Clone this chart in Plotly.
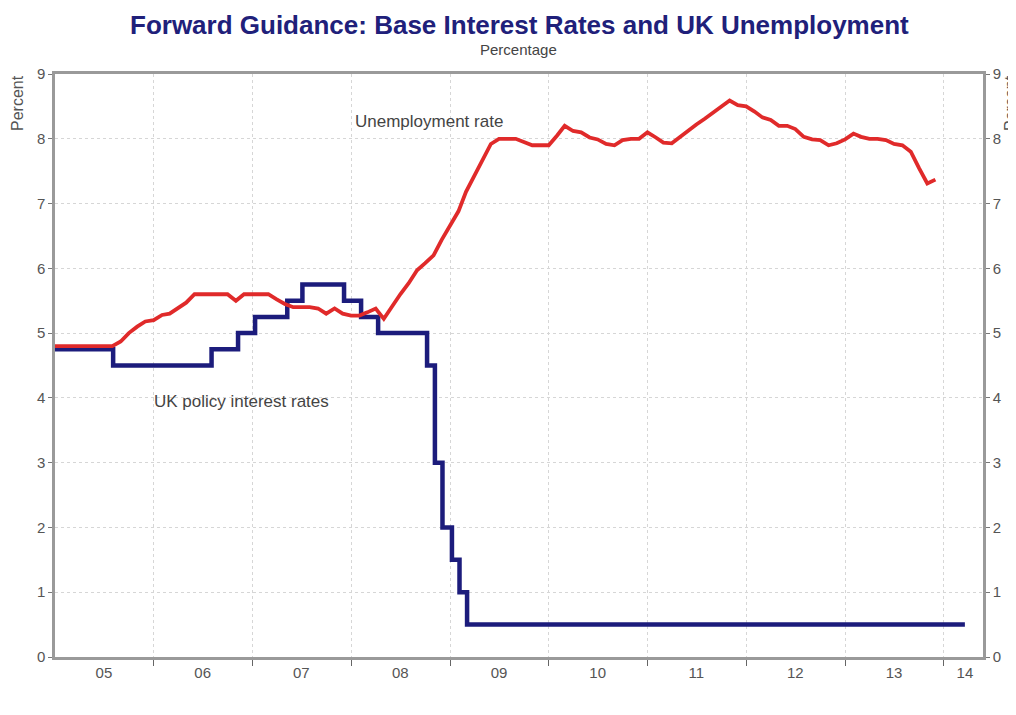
import plotly.graph_objects as go

# ---- Data ----
# UK policy (Bank) rate, change dates and levels
rate_dates = ["2005-01-01", "2005-08-04", "2006-08-03", "2006-11-09", "2007-01-11",
              "2007-05-10", "2007-07-05", "2007-12-06", "2008-02-07", "2008-04-10",
              "2008-10-08", "2008-11-06", "2008-12-04", "2009-01-08", "2009-02-05",
              "2009-03-05", "2014-03-20"]
rates = [4.75, 4.5, 4.75, 5.0, 5.25, 5.5, 5.75, 5.5, 5.25, 5.0,
         4.5, 3.0, 2.0, 1.5, 1.0, 0.5, 0.5]

# Unemployment rate, monthly Jan 2005 - Dec 2013
unemp_2005 = [4.8, 4.8, 4.8, 4.8, 4.8, 4.8, 4.8, 4.8, 4.87, 5.0, 5.1, 5.18]
unemp_2006 = [5.2, 5.28, 5.3, 5.38, 5.47, 5.6, 5.6, 5.6, 5.6, 5.6, 5.5, 5.6]
unemp_2007 = [5.6, 5.6, 5.6, 5.52, 5.45, 5.4, 5.4, 5.4, 5.38, 5.3, 5.38, 5.3]
unemp_2008 = [5.27, 5.27, 5.32, 5.38, 5.22, 5.42, 5.6, 5.77, 5.97, 6.08, 6.2, 6.44]
unemp_2009 = [6.65, 6.88, 7.18, 7.43, 7.7, 7.92, 8.0, 8.0, 8.0, 7.95, 7.9, 7.9]
unemp_2010 = [7.9, 8.05, 8.2, 8.12, 8.1, 8.02, 7.99, 7.92, 7.9, 7.98, 8.0, 8.0]
unemp_2011 = [8.1, 8.02, 7.94, 7.93, 8.03, 8.12, 8.22, 8.31, 8.41, 8.5, 8.59, 8.52]
unemp_2012 = [8.5, 8.42, 8.33, 8.29, 8.2, 8.2, 8.15, 8.03, 7.99, 7.98, 7.9, 7.93]
unemp_2013 = [7.99, 8.08, 8.03, 8.0, 8.0, 7.98, 7.92, 7.9, 7.8, 7.55, 7.31, 7.37]

years = list(range(2005, 2014))
unemp_by_year = [unemp_2005, unemp_2006, unemp_2007, unemp_2008, unemp_2009,
                 unemp_2010, unemp_2011, unemp_2012, unemp_2013]
unemp_dates = []
unemp = []
for yr, vals in zip(years, unemp_by_year):
    for m, v in enumerate(vals):
        unemp_dates.append(f"{yr}-{m+1:02d}-01")
        unemp.append(v)

x_labels = ["05", "06", "07", "08", "09", "10", "11", "12", "13", "14"]
x_label_pos = [f"{y}-07-01" for y in range(2005, 2014)] + ["2014-03-20"]
year_bounds = [f"{y}-01-01" for y in range(2006, 2015)]

title = "Forward Guidance: Base Interest Rates and UK Unemployment"
subtitle = "Percentage"

# ---- Figure ----
FONT = "Liberation Sans, Arial, sans-serif"
W, H = 1000, 700          # page body has an 8px margin
OFF = 8
plot_l, plot_r, plot_t, plot_b = 55 - OFF, 983 - OFF, 74 - OFF, 657 - OFF

fig = go.Figure()
fig.add_trace(go.Scatter(x=rate_dates, y=rates, mode="lines",
                         line=dict(color="#1c1c7c", width=4.5, shape="hv"),
                         name="UK policy interest rates", yaxis="y"))
fig.add_trace(go.Scatter(x=unemp_dates, y=unemp, mode="lines",
                         line=dict(color="#e02a2a", width=3.8),
                         name="Unemployment rate", yaxis="y2"))

tickfont = dict(family=FONT, size=15, color="#555555")
gridcol = "#d6d6d6"

fig.update_layout(
    width=W, height=H,
    margin=dict(l=plot_l, r=W - plot_r, t=plot_t, b=H - plot_b),
    paper_bgcolor="white", plot_bgcolor="white",
    showlegend=False,
    xaxis=dict(type="date", range=["2005-01-01", "2014-05-26"],
               tickmode="array", tickvals=x_label_pos, ticktext=x_labels,
               ticks="", showgrid=False, tickfont=tickfont,
               showline=True, linecolor="#9a9a9a", linewidth=2.5, mirror=True,
               zeroline=False, automargin=False,
               minor=dict(tickmode="array", tickvals=year_bounds, ticks="outside",
                          ticklen=6, tickcolor="#666666", showgrid=True,
                          gridcolor=gridcol, griddash="dot", gridwidth=1)),
    yaxis=dict(range=[0, 9], tickmode="linear", tick0=0, dtick=1,
               showgrid=True, gridcolor=gridcol, griddash="dot",
               ticks="outside", ticklen=4, tickcolor="#777777",
               tickfont=tickfont, zeroline=False, automargin=False,
               showline=True, linecolor="#9a9a9a", linewidth=2.5, mirror=True),
    yaxis2=dict(range=[0, 9], tickmode="linear", tick0=0, dtick=1,
                overlaying="y", side="right", showgrid=False,
                ticks="outside", ticklen=4, tickcolor="#777777",
                tickfont=tickfont, zeroline=False, automargin=False,
                showline=True, linecolor="#9a9a9a", linewidth=2.5),
)

pw, ph = plot_r - plot_l, plot_b - plot_t


def paper(px, py):
    return (px - OFF - plot_l) / pw, (plot_b - (py - OFF)) / ph


anns = []
for text, (px, py), size, color, angle in [
    (f"<b>{title}</b>", (519, 25), 26, "#20207a", 0),
    (subtitle, (518, 50), 15, "#444444", 0),
    ("Percent", (18, 103), 16, "#555555", -90),
    ("Percent", (1011, 103), 16, "#555555", -90),
]:
    x, y = paper(px, py)
    anns.append(dict(text=text, x=x, y=y, xref="paper", yref="paper",
                     xanchor="center", yanchor="middle", showarrow=False,
                     textangle=angle, font=dict(family=FONT, size=size, color=color)))

anns.append(dict(text="Unemployment rate", x="2008-10-15", y=8.26, xref="x", yref="y",
                 showarrow=False, font=dict(family=FONT, size=17, color="#444444")))
anns.append(dict(text="UK policy interest rates", x="2006-11-20", y=3.95, xref="x", yref="y",
                 showarrow=False, font=dict(family=FONT, size=17, color="#444444")))
fig.update_layout(annotations=anns)

fig.write_html("out.html")
